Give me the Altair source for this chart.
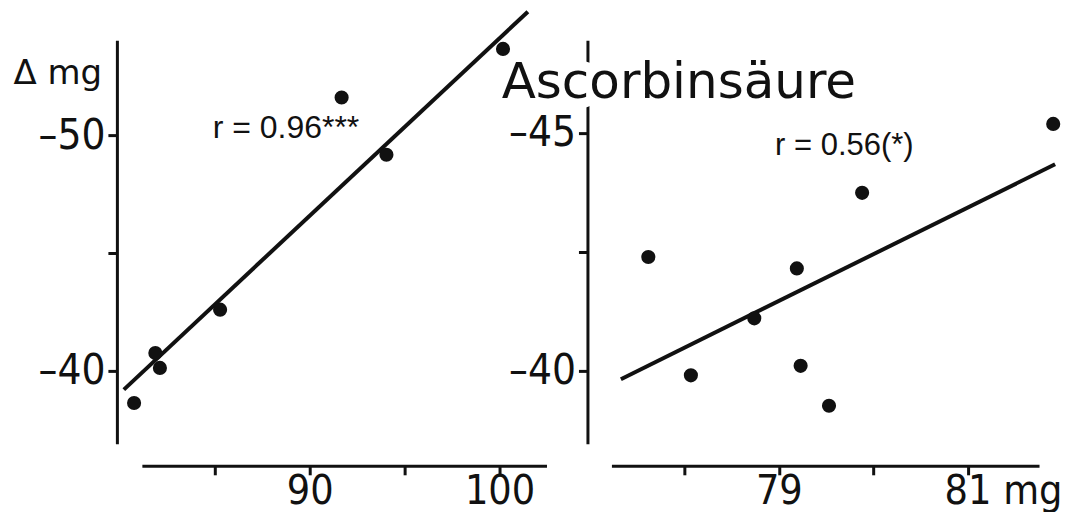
import altair as alt
import pandas as pd

# ---------------- values ----------------
# left panel
left_x = [80.75, 81.87, 82.11, 85.28, 91.68, 94.04, 100.18]
left_y = [-38.64, -40.76, -40.13, -42.60, -51.60, -49.17, -53.66]
left_fit_x = [80.21, 101.49]
left_fit_y = [-39.21, -55.24]
left_r_text = ["r = 0.96***"]
left_r_x = [84.89]
left_r_y = [-49.87]
left_x_ticks = [85, 90, 95, 100]
left_y_ticks = [-50, -45, -40]

# right panel
right_x = [77.62, 78.07, 78.74, 79.19, 79.23, 79.53, 79.88, 81.90]
right_y = [-42.39, -39.90, -41.10, -42.15, -40.10, -39.26, -43.74, -45.19]
right_fit_x = [77.33, 81.92]
right_fit_y = [-39.82, -44.34]
right_r_text = ["r = 0.56(*)"]
right_r_x = [78.96]
right_r_y = [-44.54]
right_x_ticks = [78, 79, 80, 81]
right_y_ticks = [-45, -42.5, -40]

title_text = ["Ascorbinsäure"]
title_x = [76.07]
title_y = [-45.73]

# ---------------- styling ----------------
INK = "#111111"
NARROW = "DejaVu Sans Condensed, Liberation Sans Narrow, Roboto, sans-serif"
common_axis = dict(grid=False, domainColor=INK, domainWidth=3, tickColor=INK,
                   tickWidth=3, labelColor=INK, labelFont=NARROW,
                   labelFlush=False, labelOverlap=False)


def x_enc(domain, ticks, label_expr, label_offset=0):
    return alt.X("x:Q",
                 scale=alt.Scale(domain=domain, nice=False, zero=False),
                 axis=alt.Axis(values=ticks, labelExpr=label_expr, title=None,
                               offset=22, tickSize=9, labelPadding=-3,
                               labelFontSize=41,
                               labelOffset=label_offset, **common_axis))


def y_enc(domain, ticks, label_expr, offset, title=None):
    if title is not None:
        extra = dict(title=title, titleAngle=0, titleAlign="left",
                     titleBaseline="alphabetic", titleX=-104, titleY=43,
                     titleFont="DejaVu Sans", titleFontSize=34,
                     titleFontWeight="normal", titleColor=INK)
    else:
        extra = dict(title=None)
    return alt.Y("y:Q",
                 scale=alt.Scale(domain=domain, nice=False, zero=False, reverse=True),
                 axis=alt.Axis(values=ticks, labelExpr=label_expr, offset=offset,
                               tickSize=9, labelPadding=3, labelBaseline="middle",
                               labelFontSize=42,
                               **extra, **common_axis))


DASH_EXPR = "replace(datum.label, '\u2212', '\u2013')"

# ---------------- left panel ----------------
lx = x_enc([81.16, 102.47], left_x_ticks,
           "datum.value % 10 == 0 ? datum.label : ''")
ly = y_enc([-54.03, -36.91], left_y_ticks,
           "datum.value == -45 ? '' : " + DASH_EXPR, 25, title="Δ mg")

left_pts = pd.DataFrame({"x": left_x, "y": left_y})
left_fit = pd.DataFrame({"x": left_fit_x, "y": left_fit_y})
left_txt = pd.DataFrame({"x": left_r_x, "y": left_r_y, "t": left_r_text})

left = alt.layer(
    alt.Chart(left_fit).mark_line(color=INK, strokeWidth=4, strokeCap="butt",
                                  strokeJoin="round")
    .encode(x=lx, y=ly),
    alt.Chart(left_pts).mark_circle(size=200, color=INK, opacity=1)
    .encode(x=lx, y=ly),
    alt.Chart(left_txt).mark_text(align="left", baseline="alphabetic",
                                  font="Liberation Sans", fontSize=32, color=INK)
    .encode(x=lx, y=ly, text="t:N"),
).properties(width=405, height=404)

# ---------------- right panel ----------------
rx = x_enc([77.23, 81.75], right_x_ticks,
           "datum.value == 79 ? '79' : datum.value == 81 ? '81 mg' : ''",
           label_offset={"condition": {"test": "datum.value == 81", "value": 35},
                         "value": 0})
ry = y_enc([-46.95, -38.46], right_y_ticks,
           "datum.value == -42.5 ? '' : " + DASH_EXPR, 24)

right_pts = pd.DataFrame({"x": right_x, "y": right_y})
right_fit = pd.DataFrame({"x": right_fit_x, "y": right_fit_y})
right_txt = pd.DataFrame({"x": right_r_x, "y": right_r_y, "t": right_r_text})
title_df = pd.DataFrame({"x": title_x, "y": title_y, "t": title_text})

right = alt.layer(
    alt.Chart(right_fit).mark_line(color=INK, strokeWidth=4, strokeCap="butt",
                                   strokeJoin="round")
    .encode(x=rx, y=ry),
    alt.Chart(right_pts).mark_circle(size=200, color=INK, opacity=1)
    .encode(x=rx, y=ry),
    alt.Chart(right_txt).mark_text(align="left", baseline="alphabetic",
                                   font="Liberation Sans", fontSize=31, color=INK)
    .encode(x=rx, y=ry, text="t:N"),
    alt.Chart(title_df).mark_text(align="left", baseline="alphabetic",
                                  font="DejaVu Sans", fontSize=50,
                                  fill="white", stroke="white", strokeWidth=20,
                                  strokeJoin="round")
    .encode(x=rx, y=ry, text="t:N"),
    alt.Chart(title_df).mark_text(align="left", baseline="alphabetic",
                                  font="DejaVu Sans", fontSize=50, fill=INK)
    .encode(x=rx, y=ry, text="t:N"),
).properties(width=428, height=404)

chart = (
    alt.hconcat(left, right, spacing=65, bounds="flush")
    .properties(padding={"left": 5, "top": 1, "right": 0, "bottom": 0},
                background="white")
    .configure_view(strokeWidth=0)
)

chart.save("out.html", embed_options={"renderer": "svg", "actions": False})
